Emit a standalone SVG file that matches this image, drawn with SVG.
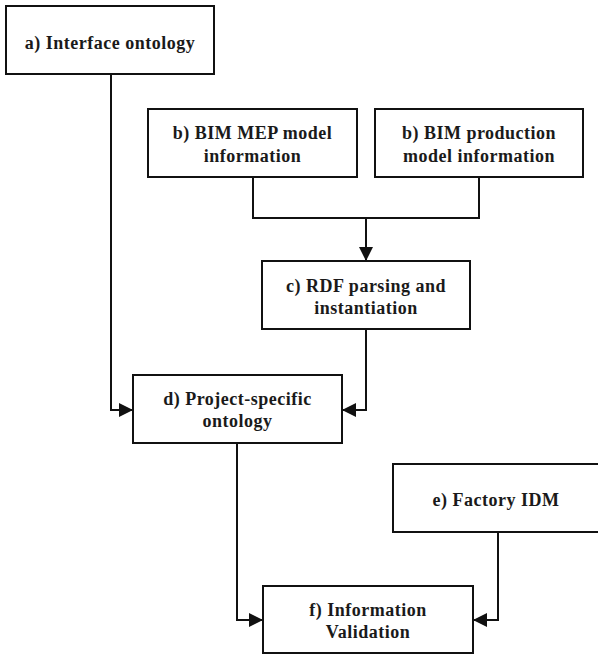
<svg xmlns="http://www.w3.org/2000/svg" width="598" height="656" viewBox="0 0 598 656">
  <style>
    .box { fill: #ffffff; stroke: #111111; stroke-width: 2; }
    .lbl { font-family: "Liberation Serif", "Times New Roman", serif; font-weight: bold; font-size: 18px; letter-spacing: 0.5px; fill: #1a1a1a; text-anchor: middle; }
    .wire { fill: none; stroke: #111111; stroke-width: 2; }
  </style>
  <defs>
    <marker id="arrow" viewBox="0 0 14 14" refX="14" refY="7" markerWidth="14" markerHeight="14" markerUnits="userSpaceOnUse" orient="auto">
      <path d="M0,0 L14,7 L0,14 Z" fill="#111111"/>
    </marker>
  </defs>

  <rect width="598" height="656" fill="#ffffff"/>

  <!-- connectors -->
  <g id="connectors">
    <polyline class="wire" points="111,74 111,410 133,410" marker-end="url(#arrow)"/>
    <polyline class="wire" points="253,177 253,218 479,218 479,177"/>
    <line class="wire" x1="366" y1="218" x2="366" y2="261" marker-end="url(#arrow)"/>
    <polyline class="wire" points="366,329 366,410 342,410" marker-end="url(#arrow)"/>
    <polyline class="wire" points="237,443 237,620 263,620" marker-end="url(#arrow)"/>
    <polyline class="wire" points="498,532 498,620 473,620" marker-end="url(#arrow)"/>
  </g>

  <!-- nodes -->
  <g id="node-a">
    <rect class="box" x="6" y="6" width="208" height="68"/>
    <text class="lbl" x="110" y="49">a) Interface ontology</text>
  </g>
  <g id="node-b1">
    <rect class="box" x="148" y="109" width="209" height="68"/>
    <text class="lbl" x="252.5" y="139">b) BIM MEP model</text>
    <text class="lbl" x="252.5" y="162">information</text>
  </g>
  <g id="node-b2">
    <rect class="box" x="375" y="109" width="208" height="68"/>
    <text class="lbl" x="479" y="139">b) BIM production</text>
    <text class="lbl" x="479" y="162">model information</text>
  </g>
  <g id="node-c">
    <rect class="box" x="262" y="261" width="208" height="68"/>
    <text class="lbl" x="366" y="292">c) RDF parsing and</text>
    <text class="lbl" x="366" y="314">instantiation</text>
  </g>
  <g id="node-d">
    <rect class="box" x="133" y="375" width="209" height="68"/>
    <text class="lbl" x="237.5" y="405">d) Project-specific</text>
    <text class="lbl" x="237.5" y="427">ontology</text>
  </g>
  <g id="node-e">
    <rect class="box" x="393" y="464" width="212" height="68"/>
    <text class="lbl" x="496" y="506">e) Factory IDM</text>
  </g>
  <g id="node-f">
    <rect class="box" x="263" y="586" width="210" height="67"/>
    <text class="lbl" x="368" y="616">f) Information</text>
    <text class="lbl" x="368" y="638">Validation</text>
  </g>
</svg>
